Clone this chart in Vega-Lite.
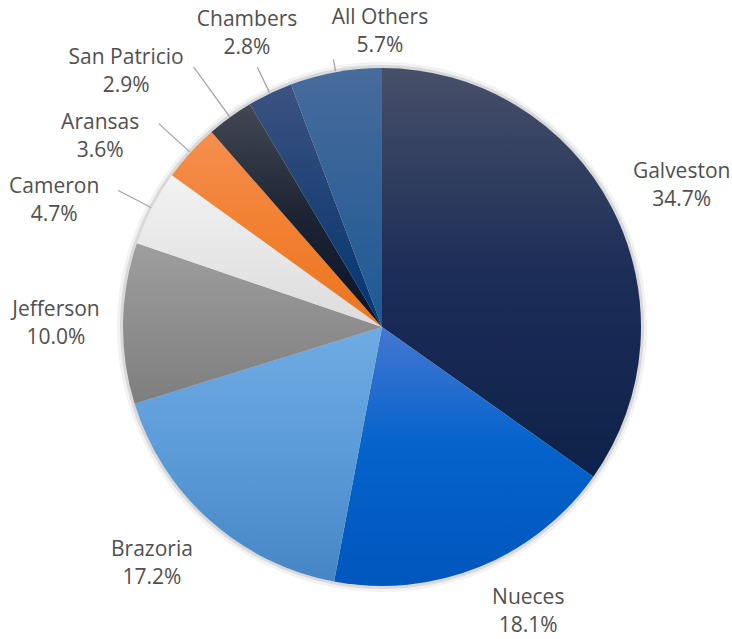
{
  "$schema": "https://vega.github.io/schema/vega-lite/v6.json",
  "width": 700,
  "height": 624,
  "autosize": "none",
  "padding": {"left": 32, "top": 15, "right": 0, "bottom": 0},
  "background": "white",
  "config": {"view": {"stroke": null}},
  "data": {"values": [
    {"idx": 1, "name": "Galveston", "value": 0.347},
    {"idx": 2, "name": "Nueces", "value": 0.181},
    {"idx": 3, "name": "Brazoria", "value": 0.172},
    {"idx": 4, "name": "Jefferson", "value": 0.100},
    {"idx": 5, "name": "Cameron", "value": 0.047},
    {"idx": 6, "name": "Aransas", "value": 0.036},
    {"idx": 7, "name": "San Patricio", "value": 0.029},
    {"idx": 8, "name": "Chambers", "value": 0.028},
    {"idx": 9, "name": "All Others", "value": 0.057}
  ]},
  "encoding": {
    "theta": {"field": "value", "type": "quantitative", "stack": true},
    "order": {"field": "idx", "type": "quantitative"},
    "detail": {"field": "name", "type": "nominal"}
  },
  "layer": [
    {"mark": {"type": "arc", "radius": 265, "fill": "#000000", "opacity": 0.05}},
    {"mark": {"type": "arc", "radius": 262, "fill": "#000000", "opacity": 0.1}},
    {
      "mark": {"type": "arc", "radius": 259},
      "encoding": {
        "fill": {
          "condition": [
            {"test": "datum.name === 'Galveston'", "value": {"gradient": "linear", "x1": 0, "y1": 0, "x2": 0, "y2": 1, "stops": [{"offset": 0, "color": "#475069"}, {"offset": 0.5, "color": "#1c2d57"}, {"offset": 1, "color": "#0e2249"}]}},
            {"test": "datum.name === 'Nueces'", "value": {"gradient": "linear", "x1": 0, "y1": 0, "x2": 0, "y2": 1, "stops": [{"offset": 0, "color": "#4577d2"}, {"offset": 0.45, "color": "#0563cc"}, {"offset": 1, "color": "#0057bd"}]}},
            {"test": "datum.name === 'Brazoria'", "value": {"gradient": "linear", "x1": 0, "y1": 0, "x2": 0, "y2": 1, "stops": [{"offset": 0, "color": "#70abe3"}, {"offset": 0.5, "color": "#5b9bd8"}, {"offset": 1, "color": "#4686c6"}]}},
            {"test": "datum.name === 'Jefferson'", "value": {"gradient": "linear", "x1": 0, "y1": 0, "x2": 0, "y2": 1, "stops": [{"offset": 0, "color": "#9e9e9e"}, {"offset": 1, "color": "#7e7e7e"}]}},
            {"test": "datum.name === 'Cameron'", "value": {"gradient": "linear", "x1": 0, "y1": 0, "x2": 0, "y2": 1, "stops": [{"offset": 0, "color": "#f2f2f2"}, {"offset": 1, "color": "#dcdcdc"}]}},
            {"test": "datum.name === 'Aransas'", "value": {"gradient": "linear", "x1": 0, "y1": 0, "x2": 0, "y2": 1, "stops": [{"offset": 0, "color": "#f48e50"}, {"offset": 0.5, "color": "#f28030"}, {"offset": 1, "color": "#ec7520"}]}},
            {"test": "datum.name === 'San Patricio'", "value": {"gradient": "linear", "x1": 0, "y1": 0, "x2": 0, "y2": 1, "stops": [{"offset": 0, "color": "#434853"}, {"offset": 0.5, "color": "#1c2434"}, {"offset": 1, "color": "#0a1428"}]}},
            {"test": "datum.name === 'Chambers'", "value": {"gradient": "linear", "x1": 0, "y1": 0, "x2": 0, "y2": 1, "stops": [{"offset": 0, "color": "#3c5281"}, {"offset": 0.5, "color": "#1e4276"}, {"offset": 1, "color": "#003574"}]}},
            {"test": "datum.name === 'All Others'", "value": {"gradient": "linear", "x1": 0, "y1": 0, "x2": 0, "y2": 1, "stops": [{"offset": 0, "color": "#476b9c"}, {"offset": 1, "color": "#1e5993"}]}}
          ],
          "value": "#999999"
        }
      }
    },
    {"mark": {"type": "arc", "radius": 297, "radius2": 260, "padAngle": 1.2, "fillOpacity": 0, "strokeWidth": 1.3},
     "encoding": {"stroke": {"condition": {"test": "datum.name === 'Cameron'", "value": "#a6a6a6"}, "value": null}}},
    {"mark": {"type": "arc", "radius": 302, "radius2": 260, "padAngle": 1.2, "fillOpacity": 0, "strokeWidth": 1.3},
     "encoding": {"stroke": {"condition": {"test": "datum.name === 'Aransas'", "value": "#a6a6a6"}, "value": null}}},
    {"mark": {"type": "arc", "radius": 321, "radius2": 260, "padAngle": 1.2, "fillOpacity": 0, "strokeWidth": 1.3},
     "encoding": {"stroke": {"condition": {"test": "datum.name === 'San Patricio'", "value": "#a6a6a6"}, "value": null}}},
    {"mark": {"type": "arc", "radius": 288, "radius2": 260, "padAngle": 1.2, "fillOpacity": 0, "strokeWidth": 1.3},
     "encoding": {"stroke": {"condition": {"test": "datum.name === 'Chambers'", "value": "#a6a6a6"}, "value": null}}},
    {"mark": {"type": "arc", "radius": 272, "radius2": 260, "padAngle": 1.2, "fillOpacity": 0, "strokeWidth": 1.3},
     "encoding": {"stroke": {"condition": {"test": "datum.name === 'All Others'", "value": "#a6a6a6"}, "value": null}}},

    {"mark": {"type": "text", "radius": 331, "thetaOffset": 0.0387, "dy": -14, "font": "Open Sans", "fontSize": 21, "fill": "#505050"},
     "encoding": {"text": {"condition": {"test": "datum.name === 'Galveston'", "field": "name", "type": "nominal"}, "value": ""}}},
    {"mark": {"type": "text", "radius": 331, "thetaOffset": 0.0387, "dy": 14, "font": "Open Sans", "fontSize": 21, "fill": "#505050"},
     "encoding": {"text": {"condition": {"test": "datum.name === 'Galveston'", "field": "value", "type": "quantitative", "format": ".1%"}, "value": ""}}},

    {"mark": {"type": "text", "radius": 320, "thetaOffset": -0.0902, "dy": -14, "font": "Open Sans", "fontSize": 21, "fill": "#505050"},
     "encoding": {"text": {"condition": {"test": "datum.name === 'Nueces'", "field": "name", "type": "nominal"}, "value": ""}}},
    {"mark": {"type": "text", "radius": 320, "thetaOffset": -0.0902, "dy": 14, "font": "Open Sans", "fontSize": 21, "fill": "#505050"},
     "encoding": {"text": {"condition": {"test": "datum.name === 'Nueces'", "field": "value", "type": "quantitative", "format": ".1%"}, "value": ""}}},

    {"mark": {"type": "text", "radius": 330, "thetaOffset": 0.0436, "dy": -14, "font": "Open Sans", "fontSize": 21, "fill": "#505050"},
     "encoding": {"text": {"condition": {"test": "datum.name === 'Brazoria'", "field": "name", "type": "nominal"}, "value": ""}}},
    {"mark": {"type": "text", "radius": 330, "thetaOffset": 0.0436, "dy": 14, "font": "Open Sans", "fontSize": 21, "fill": "#505050"},
     "encoding": {"text": {"condition": {"test": "datum.name === 'Brazoria'", "field": "value", "type": "quantitative", "format": ".1%"}, "value": ""}}},

    {"mark": {"type": "text", "radius": 326, "thetaOffset": -0.005, "dy": -14, "font": "Open Sans", "fontSize": 21, "fill": "#505050"},
     "encoding": {"text": {"condition": {"test": "datum.name === 'Jefferson'", "field": "name", "type": "nominal"}, "value": ""}}},
    {"mark": {"type": "text", "radius": 326, "thetaOffset": -0.005, "dy": 14, "font": "Open Sans", "fontSize": 21, "fill": "#505050"},
     "encoding": {"text": {"condition": {"test": "datum.name === 'Jefferson'", "field": "value", "type": "quantitative", "format": ".1%"}, "value": ""}}},

    {"mark": {"type": "text", "radius": 351, "thetaOffset": -0.1117, "dy": -14, "font": "Open Sans", "fontSize": 21, "fill": "#505050"},
     "encoding": {"text": {"condition": {"test": "datum.name === 'Cameron'", "field": "name", "type": "nominal"}, "value": ""}}},
    {"mark": {"type": "text", "radius": 351, "thetaOffset": -0.1117, "dy": 14, "font": "Open Sans", "fontSize": 21, "fill": "#505050"},
     "encoding": {"text": {"condition": {"test": "datum.name === 'Cameron'", "field": "value", "type": "quantitative", "format": ".1%"}, "value": ""}}},

    {"mark": {"type": "text", "radius": 340, "thetaOffset": -0.1454, "dy": -14, "font": "Open Sans", "fontSize": 21, "fill": "#505050"},
     "encoding": {"text": {"condition": {"test": "datum.name === 'Aransas'", "field": "name", "type": "nominal"}, "value": ""}}},
    {"mark": {"type": "text", "radius": 340, "thetaOffset": -0.1454, "dy": 14, "font": "Open Sans", "fontSize": 21, "fill": "#505050"},
     "encoding": {"text": {"condition": {"test": "datum.name === 'Aransas'", "field": "value", "type": "quantitative", "format": ".1%"}, "value": ""}}},

    {"mark": {"type": "text", "radius": 361, "thetaOffset": -0.1606, "dy": -14, "font": "Open Sans", "fontSize": 21, "fill": "#505050"},
     "encoding": {"text": {"condition": {"test": "datum.name === 'San Patricio'", "field": "name", "type": "nominal"}, "value": ""}}},
    {"mark": {"type": "text", "radius": 361, "thetaOffset": -0.1606, "dy": 14, "font": "Open Sans", "fontSize": 21, "fill": "#505050"},
     "encoding": {"text": {"condition": {"test": "datum.name === 'San Patricio'", "field": "value", "type": "quantitative", "format": ".1%"}, "value": ""}}},

    {"mark": {"type": "text", "radius": 323, "thetaOffset": 0.0164, "dy": -14, "font": "Open Sans", "fontSize": 21, "fill": "#505050"},
     "encoding": {"text": {"condition": {"test": "datum.name === 'Chambers'", "field": "name", "type": "nominal"}, "value": ""}}},
    {"mark": {"type": "text", "radius": 323, "thetaOffset": 0.0164, "dy": 14, "font": "Open Sans", "fontSize": 21, "fill": "#505050"},
     "encoding": {"text": {"condition": {"test": "datum.name === 'Chambers'", "field": "value", "type": "quantitative", "format": ".1%"}, "value": ""}}},

    {"mark": {"type": "text", "radius": 295, "thetaOffset": 0.1728, "dy": -14, "font": "Open Sans", "fontSize": 21, "fill": "#505050"},
     "encoding": {"text": {"condition": {"test": "datum.name === 'All Others'", "field": "name", "type": "nominal"}, "value": ""}}},
    {"mark": {"type": "text", "radius": 295, "thetaOffset": 0.1728, "dy": 14, "font": "Open Sans", "fontSize": 21, "fill": "#505050"},
     "encoding": {"text": {"condition": {"test": "datum.name === 'All Others'", "field": "value", "type": "quantitative", "format": ".1%"}, "value": ""}}}
  ]
}
